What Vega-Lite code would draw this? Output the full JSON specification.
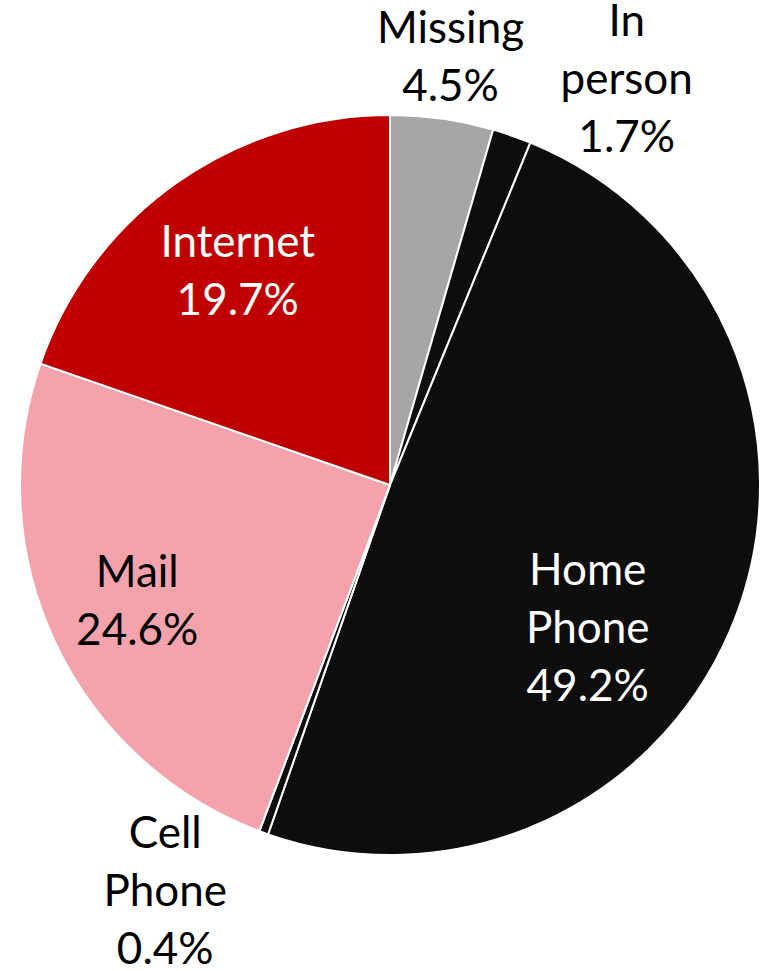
{
  "$schema": "https://vega.github.io/schema/vega-lite/v6.json",
  "width": 750,
  "height": 970,
  "autosize": {"type": "none"},
  "padding": {"left": 15, "top": 0, "right": 0, "bottom": 0},
  "background": "white",
  "config": {"view": {"stroke": null}, "text": {"font": "Lato", "fontSize": 44, "lineHeight": 58, "lineBreak": "\n", "align": "center", "baseline": "middle"}},
  "data": {"values": [
    {"idx": 1, "cat": "Missing", "pct": 4.5, "label": "Missing\n4.5%"},
    {"idx": 2, "cat": "In person", "pct": 1.7, "label": "In\nperson\n1.7%"},
    {"idx": 3, "cat": "Home Phone", "pct": 49.2, "label": "Home\nPhone\n49.2%"},
    {"idx": 4, "cat": "Cell Phone", "pct": 0.4, "label": "Cell\nPhone\n0.4%"},
    {"idx": 5, "cat": "Mail", "pct": 24.6, "label": "Mail\n24.6%"},
    {"idx": 6, "cat": "Internet", "pct": 19.7, "label": "Internet\n19.7%"}
  ]},
  "encoding": {
    "theta": {"field": "pct", "type": "quantitative", "stack": true},
    "order": {"field": "idx", "type": "quantitative"}
  },
  "layer": [
    {
      "mark": {"type": "arc", "outerRadius": 370, "stroke": "white", "strokeWidth": 2},
      "encoding": {
        "color": {"field": "cat", "type": "nominal", "legend": null,
          "scale": {"domain": ["Missing", "In person", "Home Phone", "Cell Phone", "Mail", "Internet"],
                    "range": ["#A6A6A6", "#0D0D0D", "#0D0D0D", "#0D0D0D", "#F4A3AD", "#C00000"]}}
      }
    },
    {
      "mark": {"type": "text", "radius": 430, "dx": 0, "dy": -29, "color": "#000000"},
      "encoding": {"detail": {"field": "cat"}, "text": {"field": "label"},
        "opacity": {"condition": {"test": "datum.cat === 'Missing'", "value": 1}, "value": 0}}
    },
    {
      "mark": {"type": "text", "radius": 430, "dx": 95, "dy": -56, "color": "#000000"},
      "encoding": {"detail": {"field": "cat"}, "text": {"field": "label"},
        "opacity": {"condition": {"test": "datum.cat === 'In person'", "value": 1}, "value": 0}}
    },
    {
      "mark": {"type": "text", "radius": 220, "dx": -8, "dy": 9, "color": "#FFFFFF"},
      "encoding": {"detail": {"field": "cat"}, "text": {"field": "label"},
        "opacity": {"condition": {"test": "datum.cat === 'Home Phone'", "value": 1}, "value": 0}}
    },
    {
      "mark": {"type": "text", "radius": 430, "dx": -78, "dy": -54, "color": "#000000"},
      "encoding": {"detail": {"field": "cat"}, "text": {"field": "label"},
        "opacity": {"condition": {"test": "datum.cat === 'Cell Phone'", "value": 1}, "value": 0}}
    },
    {
      "mark": {"type": "text", "radius": 278, "dx": -1, "dy": -29, "color": "#000000"},
      "encoding": {"detail": {"field": "cat"}, "text": {"field": "label"},
        "opacity": {"condition": {"test": "datum.cat === 'Mail'", "value": 1}, "value": 0}}
    },
    {
      "mark": {"type": "text", "radius": 261, "dx": -1, "dy": -28, "color": "#FFFFFF"},
      "encoding": {"detail": {"field": "cat"}, "text": {"field": "label"},
        "opacity": {"condition": {"test": "datum.cat === 'Internet'", "value": 1}, "value": 0}}
    }
  ]
}
